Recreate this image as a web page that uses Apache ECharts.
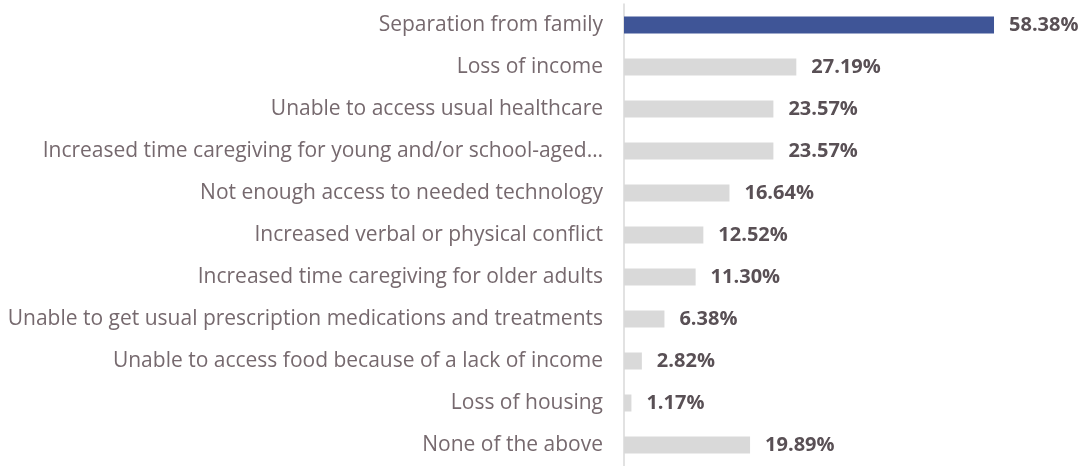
<!DOCTYPE html>
<html>
<head>
<meta charset="utf-8">
<script src="https://cdn.jsdelivr.net/npm/echarts@6/dist/echarts.min.js"></script>
<style>
  html, body { margin: 0; padding: 0; background: #fff; }
  #chart { width: 1091px; height: 466px; }
</style>
</head>
<body>
<div id="chart"></div>
<script>
// categories, top to bottom
const categories = [
  'Separation from family',
  'Loss of income',
  'Unable to access usual healthcare',
  'Increased time caregiving for young and/or school-aged…',
  'Not enough access to needed technology',
  'Increased verbal or physical conflict',
  'Increased time caregiving for older adults',
  'Unable to get usual prescription medications and treatments',
  'Unable to access food because of a lack of income',
  'Loss of housing',
  'None of the above'
]
const values = [58.38, 27.19, 23.57, 23.57, 16.64, 12.52, 11.30, 6.38, 2.82, 1.17, 19.89]
const highlightIndex = 0

const chart = echarts.init(document.getElementById('chart'))

const option = {
  animation: false,
  grid: {
    left: 624,
    top: 4,
    width: 450,
    height: 465.5,
    containLabel: false
  },
  xAxis: {
    type: 'value',
    min: 0,
    max: 71,
    show: false
  },
  yAxis: {
    type: 'category',
    inverse: true,
    data: categories,
    axisLine: { show: true, lineStyle: { color: '#d9d9d9', width: 1.5 } },
    axisTick: { show: false },
    axisLabel: {
      margin: 21,
      fontFamily: 'Open Sans',
      fontSize: 21,
      color: '#76696e'
    }
  },
  series: [{
    type: 'bar',
    barWidth: 17,
    data: values.map((v, i) => ({
      value: v,
      itemStyle: { color: i === highlightIndex ? '#3f5597' : '#d9d9d9' }
    })),
    label: {
      show: true,
      position: 'right',
      distance: 15,
      fontFamily: 'Open Sans',
      fontWeight: 'bold',
      fontSize: 20,
      color: '#595055',
      formatter: p => p.value.toFixed(2) + '%'
    }
  }]
}

chart.setOption(option)
</script>
</body>
</html>
